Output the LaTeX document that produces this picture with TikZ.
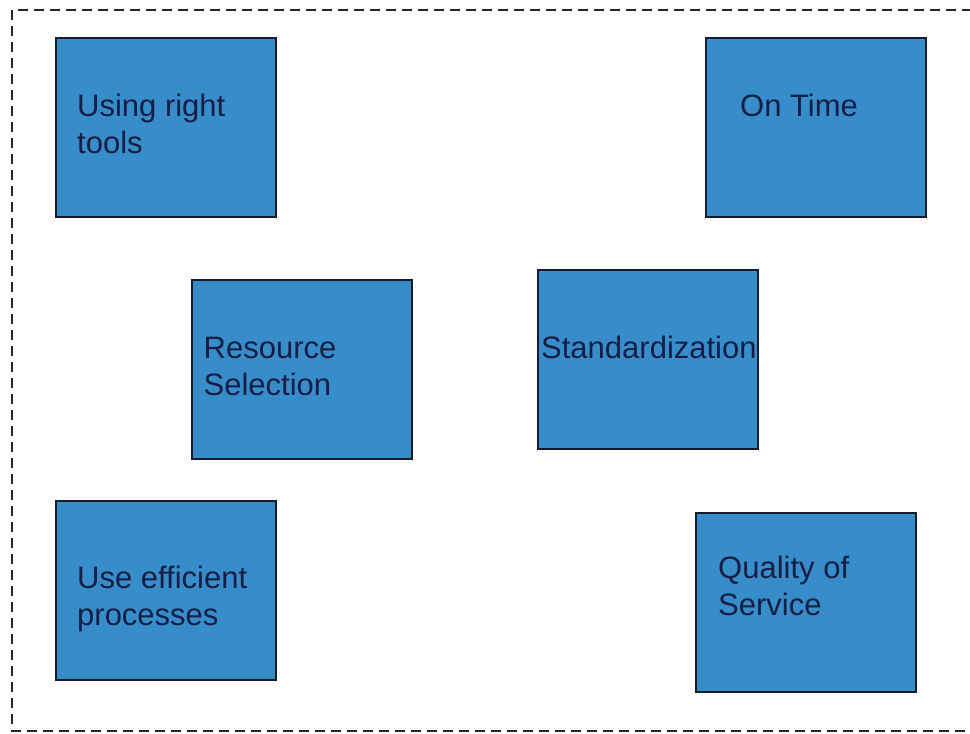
\documentclass[tikz,border=0pt]{standalone}
\usepackage{fontspec}
\setmainfont{Liberation Sans}
\usepackage{xcolor}
\usepackage{tikz}
\usetikzlibrary{positioning}

\definecolor{boxblue}{RGB}{55,141,201}
\definecolor{boxedge}{RGB}{20,28,45}
\definecolor{textnavy}{RGB}{22,30,70}

\begin{document}
\begin{tikzpicture}[
  x=1pt, y=-1pt,
  box/.style={rectangle, draw=boxedge, line width=1.6pt, fill=boxblue,
              minimum width=220pt, minimum height=179pt, inner sep=0pt, anchor=north west},
  lbl/.style={anchor=north west, inner sep=0pt, align=left, text=textnavy,
              font=\fontsize{31}{37}\selectfont},
  frame/.style={draw=black!85, line width=2.2pt, dash pattern=on 10pt off 6pt}
]
\useasboundingbox (0,0) rectangle (970,734);

% outer dashed frame (runs off the right edge)
\coordinate (ftr) at (972,10);
\coordinate (ftl) at (12,10);
\coordinate (fbl) at (12,731);
\coordinate (fbr) at (972,731);
\draw[frame] (ftr) -- (ftl) -- (fbl) -- (fbr);

% boxes
\node[box] (tools)    at (55,37)   {};
\node[box] (ontime)   at (705,37)  {};
\node[box] (resource) at (191,279) {};
\node[box] (standard) at (537,269) {};
\node[box] (efficient)at (55,500)  {};
\node[box] (quality)  at (695,512) {};

% labels
\node[lbl] (toolsT)    at (77,94)   {Using right\\tools};
\node[lbl] (ontimeT)   at (740,94)  {On Time};
\node[lbl] (resourceT) at (203.5,337) {Resource\\Selection};
\node[lbl] (standardT) at (541,336) {Standardization};
\node[lbl] (efficientT)at (77,566)  {Use efficient\\processes};
\node[lbl] (qualityT)  at (718,556) {Quality of\\Service};

\end{tikzpicture}
\end{document}
